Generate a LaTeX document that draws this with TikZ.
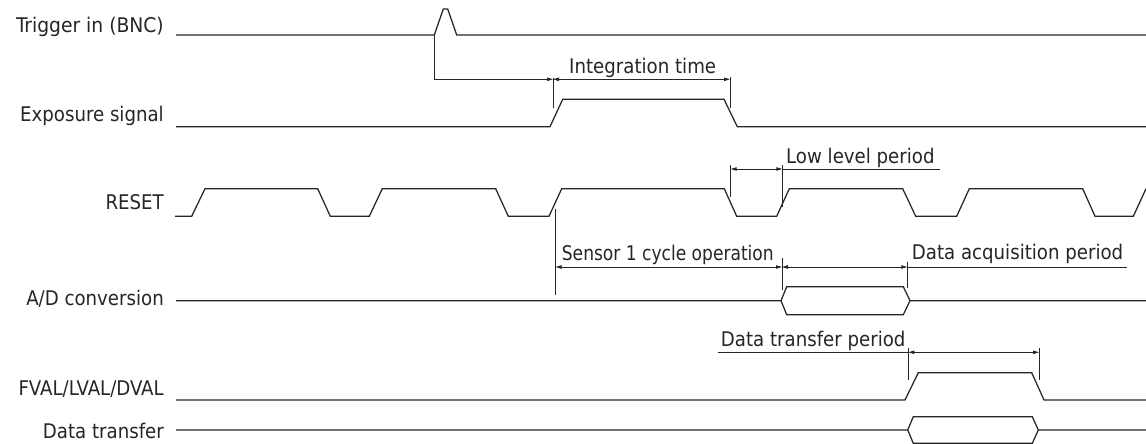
\documentclass[tikz,border=0pt]{standalone}
\usepackage{fontspec}
\setmainfont{DejaVu Sans Condensed}
\usetikzlibrary{arrows.meta}
\definecolor{ink}{HTML}{262626}
\begin{document}
\begin{tikzpicture}[x=1pt,y=-1pt,
  sig/.style={line width=1.25pt,draw=ink,line join=miter},
  tickln/.style={line width=0.9pt,draw=ink},
  tip/.tip={Triangle[length=6pt,width=3.4pt]},
  dim/.style={line width=0.9pt,draw=ink,tip-tip},
  dimr/.style={line width=0.9pt,draw=ink,-tip},
  lbl/.style={anchor=base east,inner sep=0pt,font=\fontsize{20.2}{24}\selectfont,text=ink},
  note/.style={anchor=base west,inner sep=0pt,font=\fontsize{20.2}{24}\selectfont,text=ink}]
\useasboundingbox (0,0) rectangle (1146,444);

% labels
\node[lbl,xscale=1.03] (ltrig)  at (164,32.5)  {Trigger in (BNC)};
\node[lbl] (lexp)   at (164,121.7) {Exposure signal};
\node[lbl] (lreset) at (164,209.3) {RESET};
\node[lbl] (lad)    at (164,305)   {A/D conversion};
\node[lbl] (lfval)  at (164,395.7) {FVAL/LVAL/DVAL};
\node[lbl] (ldt)    at (164,438)   {Data transfer};

% key coordinates
\coordinate (trigstart) at (434.3,35);
\coordinate (delaycorner) at (434.3,79.3);
\coordinate (intL) at (553,79.3);
\coordinate (intR) at (730,79.3);
\coordinate (lowL) at (730.7,169);
\coordinate (lowR) at (782.3,169);
\coordinate (lowU) at (940,169);
\coordinate (senL) at (555.5,267);
\coordinate (senR) at (782,267);
\coordinate (acqR) at (907.3,267);
\coordinate (acqU) at (1126.7,267);
\coordinate (dtU) at (718.3,352.3);
\coordinate (dtL) at (908.3,352.3);
\coordinate (dtR) at (1039,352.3);

% signals
\draw[sig] (176,35) -- (trigstart) -- (443.3,9) -- (447.7,9) -- (456.7,35) -- (1146,35);
\draw[sig] (176,126.7) -- (550,126.7) -- (562.7,99.3) -- (724,99.3) -- (737.3,126.7) -- (1146,126.7);
\draw[sig] (175,216.3) -- (191.7,216.3) -- (205,188.7) -- (317.7,188.7) -- (330.3,216.3)
  -- (369.3,216.3) -- (382.3,188.7) -- (495.7,188.7) -- (508.3,216.3)
  -- (549,216.3) -- (561.7,188.7) -- (724.3,188.7) -- (736.7,216.3)
  -- (776.7,216.3) -- (789.3,188.7) -- (902.7,188.7) -- (915.7,216.3)
  -- (956.7,216.3) -- (969.3,188.7) -- (1082.7,188.7) -- (1095,216.3)
  -- (1133.3,216.3) -- (1146,188.7);
\draw[sig] (176,300.7) -- (781,300.7) -- (786.7,286.7) -- (903.3,286.7) -- (910,300.7) -- (1146,300.7);
\draw[sig] (781,300.7) -- (786.7,314.7) -- (903.3,314.7) -- (910,300.7);
\draw[sig] (176,400) -- (905,400) -- (918.3,372.7) -- (1031.7,372.7) -- (1044,400) -- (1146,400);
\draw[sig] (176,430) -- (907.7,430) -- (913.3,416.7) -- (1032.3,416.7) -- (1038.3,430) -- (1146,430);
\draw[sig] (907.7,430) -- (913.3,443.3) -- (1032.3,443.3) -- (1038.3,430);

% trigger delay + integration time
\draw[tickln] (trigstart) -- (delaycorner);
\draw[dimr] (delaycorner) -- (intL);
\draw[tickln] (553,77.7) -- (553,108);
\draw[tickln] (730,77.5) -- (730,108);
\draw[dim] (intL) -- (intR);
\node[note] (tint) at (569,74) {Integration time};

% low level period
\draw[tickln] (730.7,165) -- (730.7,196.7);
\draw[tickln] (782.3,165) -- (782.3,206.7);
\draw[dim] (lowL) -- (lowR);
\draw[tickln] (lowR) -- (lowU);
\node[note] (tlow) at (786,163.3) {Low level period};

% sensor 1 cycle + data acquisition
\draw[tickln] (555.5,209) -- (555.5,295);
\draw[dim] (senL) -- (senR);
\node[note,xscale=0.94] (tsen) at (561.7,260) {Sensor 1 cycle operation};
\draw[tickln] (782,258) -- (782,290);
\draw[dim] (senR) -- (acqR);
\draw[tickln] (907.3,261.7) -- (907.3,288);
\draw[tickln] (acqR) -- (acqU);
\node[note] (tacq) at (911.7,259.3) {Data acquisition period};

% data transfer period
\draw[tickln] (dtU) -- (dtL);
\draw[dim] (dtL) -- (dtR);
\draw[tickln] (908.3,348) -- (908.3,380);
\draw[tickln] (1039,348) -- (1039,380);
\node[note] (tdt) at (720.7,346.7) {Data transfer period};
\end{tikzpicture}
\end{document}
